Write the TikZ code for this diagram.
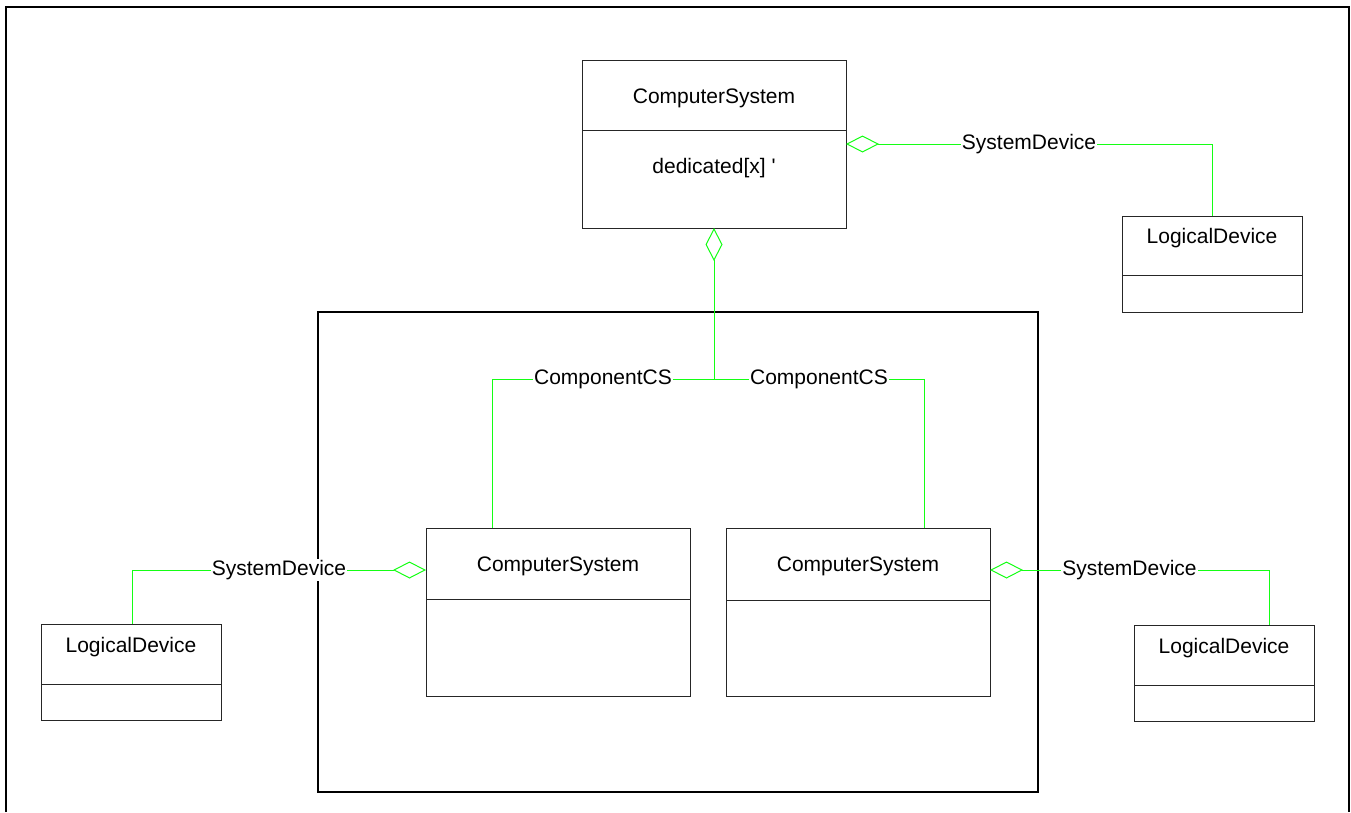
\documentclass[tikz,border=0pt]{standalone}
\usepackage{fontspec}
\setmainfont{Liberation Sans}
\usetikzlibrary{arrows.meta}
\definecolor{umlgreen}{RGB}{20,255,20}
\begin{document}
\begin{tikzpicture}[x=1pt,y=-1pt,
  box/.style={draw=black!85,line width=1pt,rectangle,inner sep=0pt,outer sep=0pt},
  divider/.style={draw=black!85,line width=1pt},
  txt/.style={font=\fontsize{21}{25}\selectfont,inner sep=0pt,anchor=base},
  assoc/.style={draw=umlgreen,line width=1pt},
  agg/.style={assoc,{Diamond[fill=white,length=33pt,width=17pt]}-},
  lbl/.style={font=\fontsize{21}{25}\selectfont,fill=white,inner sep=1pt}]
\useasboundingbox (0,0) rectangle (1351,812);
% outer frame (open at bottom)
\draw[line width=2pt] (6,812) -- (6,7) -- (1349,7) -- (1349,812);
% inner frame
\node[draw,line width=1.5pt,minimum width=720,minimum height=480,inner sep=0pt,outer sep=0pt] (frame) at (678,552) {};
% top ComputerSystem
\node[box,minimum width=264,minimum height=168] (top) at (714,144) {};
\draw[divider] (top.west |- 0,130) -- (top.east |- 0,130);
\node[txt] (topname) at (714,103) {ComputerSystem};
\node[txt] (topattr) at (714,173) {dedicated[x] \textquotesingle};
% top right LogicalDevice
\node[box,minimum width=180,minimum height=96] (ld1) at (1212,264) {};
\draw[divider] (ld1.west |- 0,275) -- (ld1.east |- 0,275);
\node[txt] (ld1name) at (1212,243) {LogicalDevice};
% lower ComputerSystems
\node[box,minimum width=264,minimum height=168] (cs1) at (558,612) {};
\draw[divider] (cs1.west |- 0,599) -- (cs1.east |- 0,599);
\node[txt] (cs1name) at (558,571) {ComputerSystem};
\node[box,minimum width=264,minimum height=168] (cs2) at (858,612) {};
\draw[divider] (cs2.west |- 0,600) -- (cs2.east |- 0,600);
\node[txt] (cs2name) at (858,571) {ComputerSystem};
% lower LogicalDevices
\node[box,minimum width=180,minimum height=96] (ld2) at (131,672) {};
\draw[divider] (ld2.west |- 0,684) -- (ld2.east |- 0,684);
\node[txt] (ld2name) at (131,652) {LogicalDevice};
\node[box,minimum width=180,minimum height=96] (ld3) at (1224,673) {};
\draw[divider] (ld3.west |- 0,685) -- (ld3.east |- 0,685);
\node[txt] (ld3name) at (1224,653) {LogicalDevice};
% connectors
\coordinate (j) at (714,379);
\coordinate (c1) at (492,379);
\coordinate (c2) at (924,379);
\coordinate (s0) at (1212,144);
\coordinate (s1) at (132,570);
\coordinate (s2) at (1269,570);
\draw[agg] (top.south) -- (j);
\draw[assoc] (j) -- node[lbl] (l1) {ComponentCS} (c1) -- (c1 |- cs1.north);
\draw[assoc] (j) -- node[lbl] (l2) {ComponentCS} (c2) -- (c2 |- cs2.north);
\draw[agg] (top.east) -- node[lbl] (l0) {SystemDevice} (s0) -- (s0 |- ld1.north);
\draw[agg] (cs1.west |- s1) -- node[lbl] (l3) {SystemDevice} (s1) -- (s1 |- ld2.north);
\draw[agg] (cs2.east |- s2) -- node[lbl] (l4) {SystemDevice} (s2) -- (s2 |- ld3.north);
\end{tikzpicture}
\end{document}
